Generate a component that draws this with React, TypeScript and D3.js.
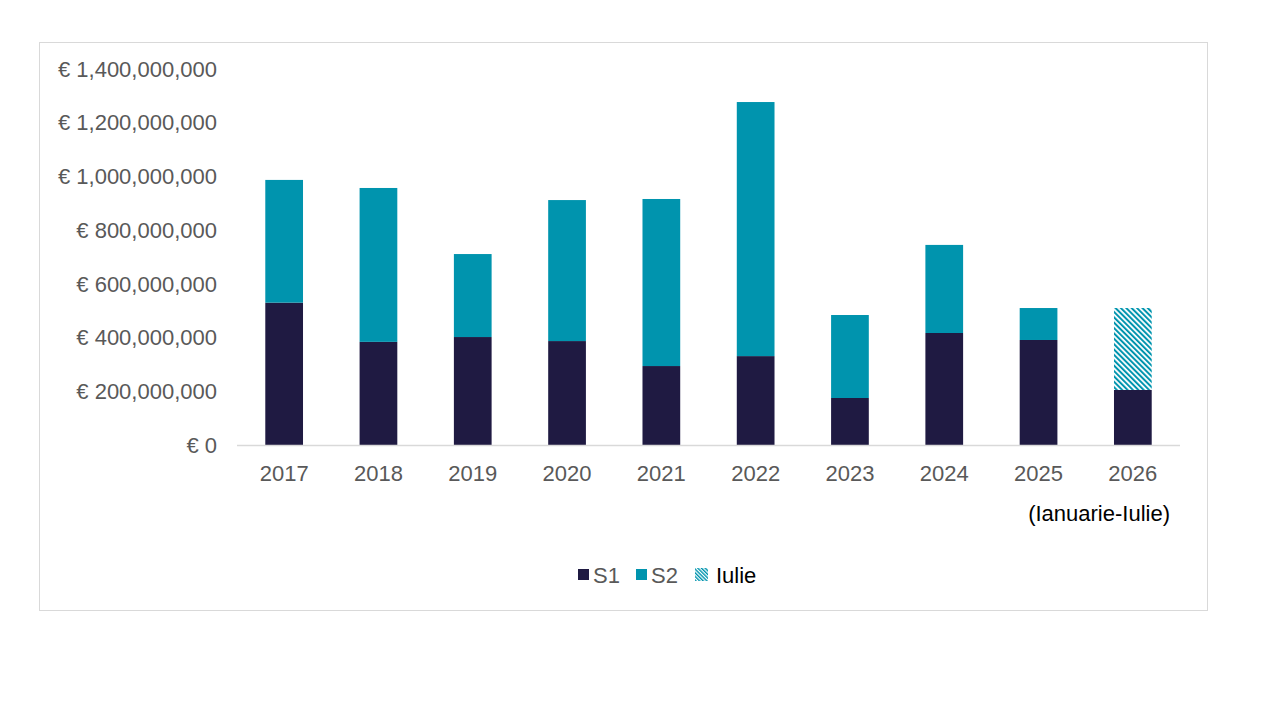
import React from "react";
import * as d3 from "d3";

const years = ["2017", "2018", "2019", "2020", "2021", "2022", "2023", "2024", "2025", "2026"];
const s1 = [530, 384, 402, 387, 294, 331, 175, 417, 391, 205].map((v) => v * 1e6);
const s2 = [457, 573, 309, 525, 622, 946, 309, 328, 119, 0].map((v) => v * 1e6);
const iulie = [0, 0, 0, 0, 0, 0, 0, 0, 0, 305].map((v) => v * 1e6);
const yTicks = [0, 200, 400, 600, 800, 1000, 1200, 1400].map((v) => v * 1e6);

const C_S1 = "#1f1a42";
const C_S2 = "#0094ae";
const FONT = "'Liberation Sans', Arial, sans-serif";

export default function App() {
  const W = 1280, H = 709;
  const left = 237, right = 1180, top = 69, bottom = 445;
  const x = d3.scaleBand<string>().domain(years).range([left, right]).paddingInner(0.6).paddingOuter(0.3);
  const y = d3.scaleLinear().domain([0, 1.4e9]).range([bottom, top]);
  const fmt = (v: number) => (v === 0 ? "€ 0" : "€ " + d3.format(",")(v));
  const bw = x.bandwidth();

  return (
    <div style={{ position: "absolute", left: 0, top: 0, width: W, height: H, background: "#fff" }}>
      <svg width={W} height={H} style={{ display: "block" }}>
        <defs>
          <pattern id="hatch" patternUnits="userSpaceOnUse" width="3.8" height="3.8" patternTransform="rotate(-45)">
            <rect width="3.8" height="3.8" fill="#fff" />
            <rect x="0" y="0" width="2" height="3.8" fill={C_S2} />
          </pattern>
          <pattern id="hatchS" patternUnits="userSpaceOnUse" width="2.6" height="2.6" patternTransform="rotate(-45)">
            <rect width="2.6" height="2.6" fill="#fff" />
            <rect x="0" y="0" width="1.4" height="2.6" fill={C_S2} />
          </pattern>
        </defs>
        <rect x={39.5} y={42.5} width={1168} height={568} fill="#fff" stroke="#d9d9d9" strokeWidth={1} />
        {yTicks.map((t) => (
          <text key={t} x={217} y={y(t)} dy="0.35em" textAnchor="end" fontFamily={FONT} fontSize={22} fill="#595959">
            {fmt(t)}
          </text>
        ))}
        {years.map((yr, i) => {
          const x0 = x(yr)!;
          const y1 = y(s1[i]);
          const y2 = y(s1[i] + s2[i]);
          const y3 = y(s1[i] + s2[i] + iulie[i]);
          return (
            <g key={yr}>
              <rect x={x0} y={y1} width={bw} height={bottom - y1} fill={C_S1} />
              {s2[i] > 0 && <rect x={x0} y={y2} width={bw} height={y1 - y2} fill={C_S2} />}
              {iulie[i] > 0 && <rect x={x0} y={y3} width={bw} height={y(s1[i] + s2[i]) - y3} fill="url(#hatch)" />}
              <text x={x0 + bw / 2} y={473} dy="0.35em" textAnchor="middle" fontFamily={FONT} fontSize={22} fill="#595959">
                {yr}
              </text>
            </g>
          );
        })}
        <line x1={left} x2={right} y1={bottom + 0.5} y2={bottom + 0.5} stroke="#d9d9d9" strokeWidth={1.5} />
        <text x={1170} y={513} dy="0.35em" textAnchor="end" fontFamily={FONT} fontSize={22} fill="#000">
          (Ianuarie-Iulie)
        </text>
        <g fontFamily={FONT} fontSize={22}>
          <rect x={578} y={569} width={11} height={11} fill={C_S1} />
          <text x={593} y={575} dy="0.35em" fill="#595959">S1</text>
          <rect x={636} y={569} width={11} height={11} fill={C_S2} />
          <text x={651} y={575} dy="0.35em" fill="#595959">S2</text>
          <rect x={695} y={568} width={13} height={13} fill="url(#hatchS)" />
          <text x={716} y={575} dy="0.35em" fill="#000">Iulie</text>
        </g>
      </svg>
    </div>
  );
}
